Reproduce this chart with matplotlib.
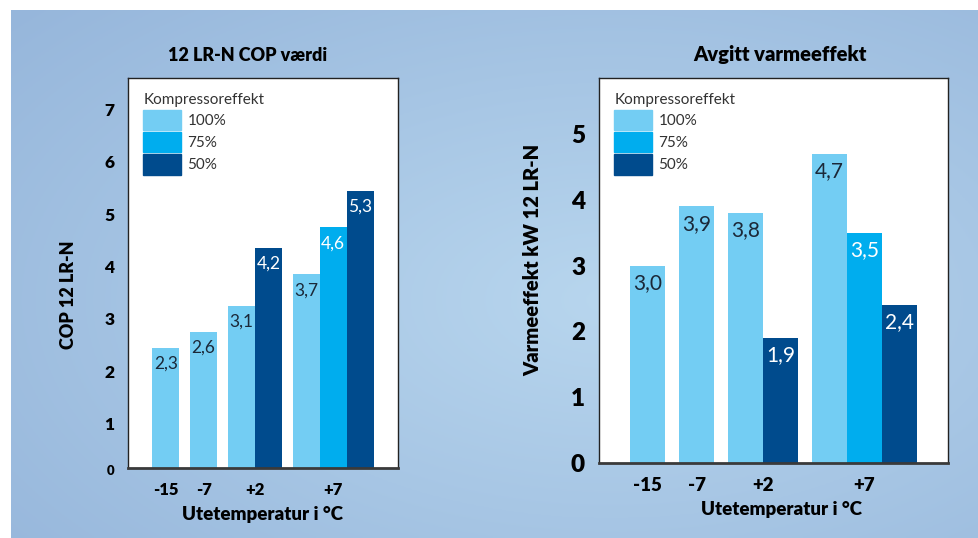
import numpy as np
import matplotlib
matplotlib.use('Agg')
import matplotlib.pyplot as plt
import matplotlib.transforms as mtransforms

# data
temps = ['-15', '-7', '+2', '+7']
series = ['100%', '75%', '50%']
cop_100 = [2.3, 2.6, 3.1, 3.7]
cop_75 = [None, None, None, 4.6]
cop_50 = [None, None, 4.2, 5.3]
heat_100 = [3.0, 3.9, 3.8, 4.7]
heat_75 = [None, None, None, 3.5]
heat_50 = [None, None, 1.9, 2.4]

colors = ['#73cdf3', '#00adee', '#004b8d']
text_colors = ['#1b2838', 'white', 'white']

plt.rcParams['font.family'] = ['Lato', 'DejaVu Sans']

W, H = 979, 538
fig = plt.figure(figsize=(W / 100, H / 100), dpi=100)

# blaa bakgrunn med lys midte
bg = fig.add_axes([11 / W, 0, 1 - 11 / W, (H - 10) / H])
yy, xx = np.mgrid[0:1:200j, 0:1:360j]
r = np.sqrt(((xx - 0.62) / 0.9) ** 2 + ((yy - 0.55) / 0.9) ** 2)
r = np.clip(r / r.max(), 0, 1)
c0 = np.array([0xb8, 0xd6, 0xee]) / 255
c1 = np.array([0x96, 0xb6, 0xdb]) / 255
img = c0[None, None, :] * (1 - r[..., None]) + c1[None, None, :] * r[..., None]
bg.imshow(img, aspect='auto', extent=[0, 1, 0, 1])
bg.set_axis_off()


def layout(cols, gap=0.4, margin=0.9):
    """plasser stolpene gruppevis, hver gruppe saa bred som antall stolper"""
    pos = []
    centers = []
    x = margin
    for i in range(len(temps)):
        start = x
        for s in range(len(cols)):
            if cols[s][i] is not None:
                pos.append((x + 0.5, cols[s][i], s))
                x += 1
        centers.append((start + x) / 2)
        x += gap
    return pos, centers, x - gap + margin


def draw(ax, cols, ymax, title, title_fs, title_x, ylabel, ylab_fs, ylab_xy, xlab_xy,
         tick_fs, xtick_fs, lab_fs, lab_off, ytick_shift):
    ax.tick_params(length=0, pad=10)
    pos, centers, xmax = layout(cols)
    for x, v, s in pos:
        ax.bar(x, v, width=1.0, color=colors[s], linewidth=0)
        ax.annotate(f'{v:.1f}'.replace('.', ','), (x, v), xytext=(0, -lab_off),
                    textcoords='offset points', ha='center', va='center',
                    fontsize=lab_fs, color=text_colors[s])
    ax.set_xlim(0, xmax)
    ax.set_ylim(0, ymax)
    ax.set_xticks(centers)
    ax.set_xticklabels(temps, fontsize=xtick_fs, fontweight='heavy')
    ax.set_yticks(range(int(ymax) + 1))
    ax.set_yticklabels([str(t) for t in range(int(ymax) + 1)],
                       fontsize=tick_fs, fontweight='heavy')
    for sp in ['top', 'left', 'right']:
        ax.spines[sp].set_linewidth(1.0)
        ax.spines[sp].set_color('#222222')
    ax.spines['bottom'].set_linewidth(2.0)
    ax.spines['bottom'].set_color('#3a3a3a')
    ax.set_title(title, fontsize=title_fs, fontweight='heavy', x=title_x, pad=12)
    ax.set_ylabel(ylabel, fontsize=ylab_fs, fontweight='heavy')
    ax.yaxis.set_label_coords(*ylab_xy)
    ax.set_xlabel('Utetemperatur i °C', fontsize=13.5, fontweight='heavy')
    ax.xaxis.set_label_coords(*xlab_xy)
    for lbl, dy in zip(ax.get_yticklabels(), ytick_shift):
        off = mtransforms.ScaledTranslation(0, -dy / 100, fig.dpi_scale_trans)
        lbl.set_transform(lbl.get_transform() + off)

    handles = [plt.Rectangle((0, 0), 1, 1, color=c) for c in colors]
    leg = ax.legend(handles, series, title='Kompressoreffekt', loc='upper left',
                    frameon=False, fontsize=11, title_fontsize=11,
                    handlelength=2.45, handleheight=1.65, labelspacing=0.15,
                    handletextpad=0.45, borderaxespad=0.6, alignment='left')
    for t in leg.get_texts():
        t.set_color('#333333')
    leg.get_title().set_color('#333333')


ax1 = fig.add_axes([128 / W, (H - 468) / H, 270 / W, 390 / H])
draw(ax1, [cop_100, cop_75, cop_50], 7.45, '12 LR-N COP værdi', 13, 0.444,
     'COP 12 LR-N', 13, (-0.189, 0.444), (0.5, -0.097),
     12.5, 12, 12.5, 11.5, [2, 8, 8, 8, 8, 8, 8, 8])
ax1.get_yticklabels()[0].set_fontsize(9.5)

ax2 = fig.add_axes([599 / W, (H - 463) / H, 349 / W, 385 / H])
draw(ax2, [heat_100, heat_75, heat_50], 5.85, 'Avgitt varmeeffekt', 14.5, 0.519,
     'Varmeeffekt kW 12 LR-N', 14.5, (-0.163, 0.527), (0.524, -0.098),
     17.5, 13.5, 15, 12.5, [0] * 6)

fig.savefig('out.png', dpi=100)
